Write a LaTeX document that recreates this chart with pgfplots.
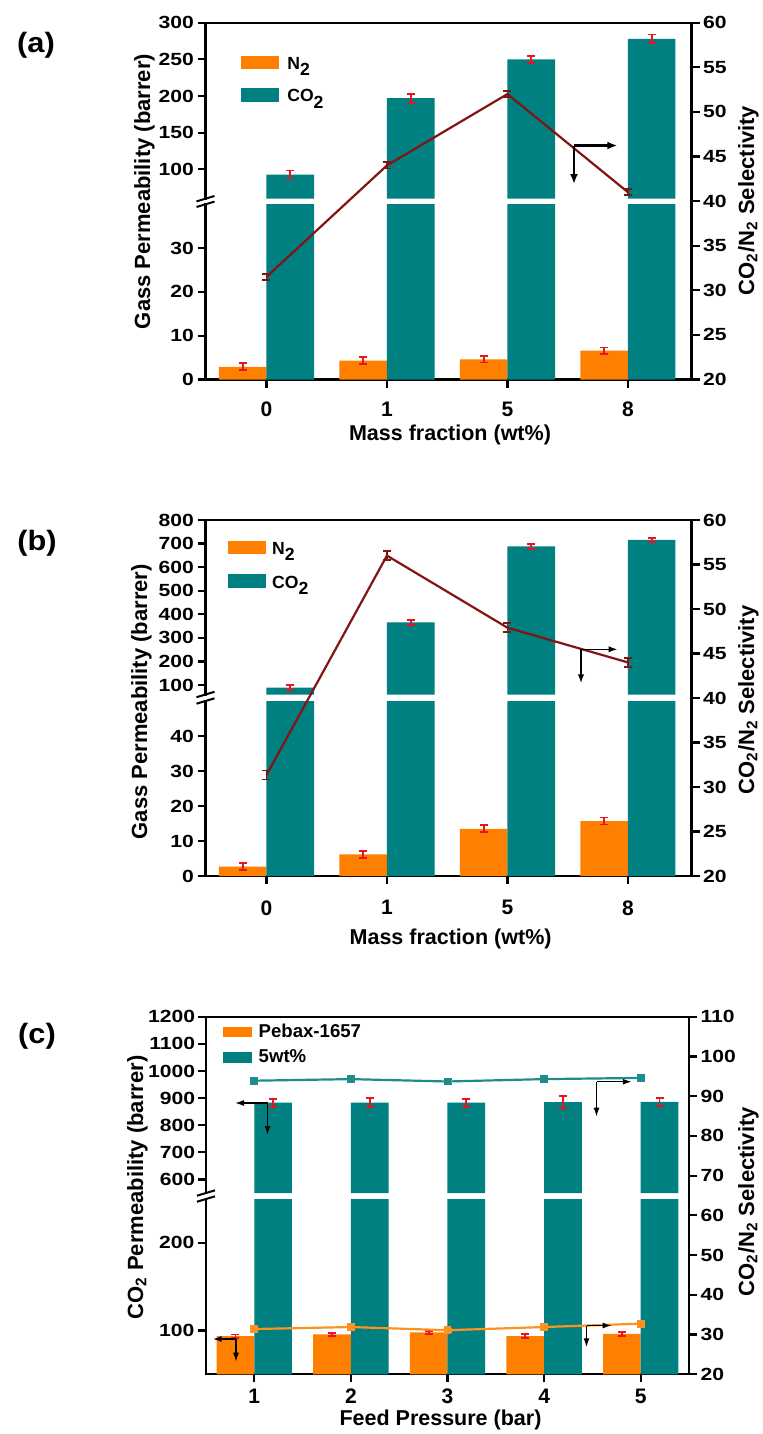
\documentclass[border=0pt]{standalone}
\usepackage{pgfplots}
\pgfplotsset{compat=1.18}
\usepackage{graphicx}
\usepackage{fontspec}
\setmainfont{Liberation Sans}
\usetikzlibrary{arrows.meta}
\definecolor{orbar}{RGB}{255,128,0}
\definecolor{tlbar}{RGB}{0,128,128}
\definecolor{errred}{RGB}{235,20,30}
\definecolor{maroonl}{RGB}{130,20,20}
\definecolor{orline}{RGB}{255,145,30}
\definecolor{tlline}{RGB}{30,140,140}
\newcommand\ytf{\bfseries\fontsize{8.8pt}{9pt}\selectfont}
\newcommand\xtf{\bfseries\fontsize{10.5pt}{11pt}\selectfont}
\newcommand\labf{\bfseries\fontsize{11pt}{12pt}\selectfont}
\newcommand\xlabf{\bfseries\fontsize{10.75pt}{12pt}\selectfont}
\newcommand\legf{\bfseries\fontsize{8.8pt}{10pt}\selectfont}
\newcommand\legcf{\bfseries\fontsize{9.3pt}{10pt}\selectfont}
\newcommand\panf{\bfseries\fontsize{14pt}{16pt}\selectfont}
\newcommand\lsub[1]{\raisebox{-3.2pt}{#1}}
\pgfplotsset{
  common/.style={scale only axis, anchor=south west, tick align=outside, major tick length=4pt,
    axis line style={-, line width=1.1pt, line cap=rect},
    major tick style={line width=1.1pt, black},
    minor tick num=0,
    /pgf/number format/assume math mode=true, /pgf/number format/1000 sep={},
    yticklabel={\scalebox{1.2}[1]{\pgfmathprintnumber{\tick}}},
    yticklabel style={font=\ytf, inner xsep=1.6pt, inner ysep=0pt},
    xticklabel style={font=\xtf, inner sep=0pt}},
  seg/.style={common, ybar, bar width=0.395},
  ovl/.style={common, axis y line*=right, axis x line=none},
  nbar/.style={fill=orbar, draw=none, bar shift=0pt},
  cbar/.style={fill=tlbar, draw=none, bar shift=0pt},
  rerr/.style={error bars/.cd, y dir=both, y explicit,
    error bar style={errred, line width=0.9pt},
    error mark options={rotate=90, errred, mark size=2pt, line width=0.9pt}},
  lerr/.style={error bars/.cd, y dir=both, y explicit,
    error bar style={#1, line width=0.9pt},
    error mark options={rotate=90, #1, mark size=2pt, line width=0.9pt}},
}
\begin{document}
\begin{tikzpicture}
\path[use as bounding box] (0,0) rectangle (381.5pt,-717pt);

% ================= (a) =================
\begin{axis}[seg, at={(102.75pt,-189.75pt)}, width=243pt, height=87.6pt,
  xmin=-0.506, xmax=3.528, ymin=0, ymax=40,
  axis x line*=bottom, axis y line*=left,
  xtick={0,1,2,3}, xticklabels={0,1,5,8}, ytick={0,10,20,30},
  xticklabel style={yshift=-6.85pt}]
\addplot[nbar, rerr] coordinates {(-0.1975,2.9) +- (0,0.8) (0.8025,4.3) +- (0,0.8) (1.8025,4.6) +- (0,0.7) (2.8025,6.6) +- (0,0.7)};
\addplot[cbar] coordinates {(0.1975,93) (1.1975,197) (2.1975,250) (3.1975,278)};
\end{axis}
\begin{axis}[seg, at={(102.75pt,-99.35pt)}, width=243pt, height=88pt,
  xmin=-0.506, xmax=3.528, ymin=60, ymax=300,
  axis x line*=top, axis y line*=left, xtick=\empty, ytick={100,150,...,300}]
\addplot[cbar, rerr] coordinates {(0.1975,93) +- (0,5.5) (1.1975,197) +- (0,6) (2.1975,250) +- (0,5) (3.1975,278) +- (0,6)};
\end{axis}
\begin{axis}[ovl, at={(102.75pt,-189.75pt)}, width=243pt, height=178.4pt,
  xmin=-0.506, xmax=3.528, ymin=20, ymax=60, ytick={20,25,...,60}]
\addplot[maroonl, line width=1.1pt, mark=none, lerr=maroonl]
  coordinates {(0,31.5) +- (0,0.35) (1,44) +- (0,0.35) (2,52) +- (0,0.35) (3,41) +- (0,0.35)};
\end{axis}
\draw[line width=1pt] (98.25pt,-100.7pt) -- (107.25pt,-98.0pt);
\draw[line width=1pt] (98.25pt,-103.5pt) -- (107.25pt,-100.8pt);
\draw[line width=1.1pt, -{Latex[length=5pt,width=4pt]}] (287pt,-72.75pt) -- (308.65pt,-72.75pt);
\draw[line width=1.1pt, -{Latex[length=5pt,width=4pt]}] (287pt,-72.75pt) -- (287pt,-92pt);
\fill[orbar] (120.5pt,-28pt) rectangle (139.5pt,-34.65pt);
\node[anchor=base west, inner sep=0pt, font=\legf] at (143.45pt,-34.65pt) {N\lsub{2}};
\fill[tlbar] (120.5pt,-44.15pt) rectangle (139.5pt,-50.85pt);
\node[anchor=base west, inner sep=0pt, font=\legf] at (143.45pt,-50.85pt) {CO\lsub{2}};
\node[font=\panf] at (18pt,-22.5pt) {\scalebox{1.1}[1]{(a)}};
\node[rotate=90, anchor=base, inner sep=0pt, font=\labf] at (75pt,-95.75pt) {Gass Permeability (barrer)};
\node[rotate=90, anchor=base, inner sep=0pt, font=\labf] at (377pt,-100.25pt) {CO\textsubscript{2}/N\textsubscript{2} Selectivity};
\node[anchor=base, inner sep=0pt, font=\xlabf] at (225pt,-220.25pt) {Mass fraction (wt\%)};

% ================= (b) =================
\begin{axis}[seg, at={(102.75pt,-438pt)}, width=243pt, height=87.5pt,
  xmin=-0.506, xmax=3.528, ymin=0, ymax=50,
  axis x line*=bottom, axis y line*=left,
  xtick={0,1,2,3}, xticklabels={0,1,5,8}, ytick={0,10,20,30,40},
  xticklabel style={yshift=-8pt}]
\addplot[nbar, rerr] coordinates {(-0.1975,2.7) +- (0,1.0) (0.8025,6.2) +- (0,1.0) (1.8025,13.5) +- (0,1.0) (2.8025,15.7) +- (0,1.0)};
\addplot[cbar] coordinates {(0.1975,89) (1.1975,366) (2.1975,688) (3.1975,716)};
\end{axis}
\begin{axis}[seg, at={(102.75pt,-347.25pt)}, width=243pt, height=87.25pt,
  xmin=-0.506, xmax=3.528, ymin=60, ymax=800,
  axis x line*=top, axis y line*=left, xtick=\empty, ytick={100,200,...,800}]
\addplot[cbar, rerr] coordinates {(0.1975,89) +- (0,11) (1.1975,366) +- (0,10) (2.1975,688) +- (0,10) (3.1975,716) +- (0,8)};
\end{axis}
\begin{axis}[ovl, at={(102.75pt,-438pt)}, width=243pt, height=178pt,
  xmin=-0.506, xmax=3.528, ymin=20, ymax=60, ytick={20,25,...,60}]
\addplot[maroonl, line width=1.1pt, mark=none, lerr=maroonl]
  coordinates {(0,31.35) +- (0,0.5) (1,56) +- (0,0.5) (2,47.9) +- (0,0.5) (3,44) +- (0,0.5)};
\end{axis}
\draw[line width=1pt] (98.25pt,-348.6pt) -- (107.25pt,-345.9pt);
\draw[line width=1pt] (98.25pt,-351.85pt) -- (107.25pt,-349.15pt);
\draw[line width=0.75pt, -{Latex[length=4.5pt,width=3.2pt]}] (290.5pt,-324.65pt) -- (308.75pt,-324.65pt);
\draw[line width=0.75pt, -{Latex[length=4.5pt,width=3.2pt]}] (290.5pt,-324.65pt) -- (290.5pt,-341.65pt);
\fill[orbar] (113.85pt,-270.5pt) rectangle (132.85pt,-277.15pt);
\node[anchor=base west, inner sep=0pt, font=\legf] at (135.85pt,-277.15pt) {N\lsub{2}};
\fill[tlbar] (113.85pt,-287pt) rectangle (132.85pt,-294.15pt);
\node[anchor=base west, inner sep=0pt, font=\legf] at (135.85pt,-294.15pt) {CO\lsub{2}};
\node[font=\panf] at (18.5pt,-271.5pt) {\scalebox{1.1}[1]{(b)}};
\node[rotate=90, anchor=base, inner sep=0pt, font=\labf] at (73.5pt,-350.85pt) {Gass Permeability (barrer)};
\node[rotate=90, anchor=base, inner sep=0pt, font=\labf] at (377pt,-350pt) {CO\textsubscript{2}/N\textsubscript{2} Selectivity};
\node[anchor=base, inner sep=0pt, font=\xlabf] at (225.3pt,-472pt) {Mass fraction (wt\%)};

% ================= (c) =================
\begin{axis}[seg, bar width=0.39, at={(103pt,-687.15pt)}, width=241.5pt, height=87.65pt,
  xmin=0.5, xmax=5.5, ymin=50, ymax=250,
  axis x line*=bottom, axis y line*=left,
  xtick={1,2,3,4,5}, ytick={100,200},
  xticklabel style={yshift=-3pt}]
\addplot[nbar, rerr] coordinates {(0.805,93.5) +- (0,2) (1.805,95.5) +- (0,2) (2.805,97.8) +- (0,1.6) (3.805,93.5) +- (0,2.5) (4.805,96) +- (0,2.5)};
\addplot[cbar] coordinates {(1.195,883) (2.195,883) (3.195,883) (4.195,885) (5.195,886)};
\end{axis}
\begin{axis}[seg, bar width=0.39, at={(103pt,-596.5pt)}, width=241.5pt, height=88.15pt,
  xmin=0.5, xmax=5.5, ymin=550, ymax=1200,
  axis x line*=top, axis y line*=left, xtick=\empty, ytick={600,700,...,1200},
  yticklabel style={inner xsep=1.2pt}]
\addplot[cbar, rerr] coordinates {(1.195,883) +- (0,15) (2.195,883) +- (0,17) (3.195,883) +- (0,15) (4.195,885) +- (0,22) (5.195,886) +- (0,15)};
\end{axis}
\begin{axis}[ovl, at={(103pt,-687.15pt)}, width=241.5pt, height=178.8pt,
  xmin=0.5, xmax=5.5, ymin=20, ymax=110, ytick={20,30,...,110}]
\addplot[tlline, line width=1.1pt, mark=square*, mark size=1.4pt, lerr=tlline]
  coordinates {(1,93.9) +- (0,0.7) (2,94.3) +- (0,0.7) (3,93.7) +- (0,0.7) (4,94.3) +- (0,0.7) (5,94.6) +- (0,0.7)};
\addplot[orline, line width=1.1pt, mark=square*, mark size=1.4pt, lerr=orline]
  coordinates {(1,31.4) +- (0,0.4) (2,31.9) +- (0,0.4) (3,31.1) +- (0,0.4) (4,31.9) +- (0,0.4) (5,32.75) +- (0,0.4)};
\end{axis}
\draw[line width=1pt] (98.5pt,-597.85pt) -- (107.5pt,-595.15pt);
\draw[line width=1pt] (98.5pt,-600.85pt) -- (107.5pt,-598.15pt);
\draw[line width=0.7pt, -{Latex[length=4.5pt,width=3pt]}] (133.75pt,-551.5pt) -- (117.5pt,-551.5pt);
\draw[line width=0.7pt, -{Latex[length=4.5pt,width=3pt]}] (133.75pt,-551.5pt) -- (133.75pt,-567.5pt);
\draw[line width=0.7pt, -{Latex[length=4.5pt,width=3pt]}] (298.25pt,-540.85pt) -- (315.9pt,-540.85pt);
\draw[line width=0.7pt, -{Latex[length=4.5pt,width=3pt]}] (298.25pt,-540.85pt) -- (298.25pt,-558.35pt);
\draw[line width=0.7pt, -{Latex[length=4.5pt,width=3pt]}] (118pt,-669.5pt) -- (106.35pt,-669.5pt);
\draw[line width=0.7pt, -{Latex[length=4.5pt,width=3pt]}] (118pt,-669.5pt) -- (118pt,-680.85pt);
\draw[line width=0.7pt, -{Latex[length=4.5pt,width=3pt]}] (293.25pt,-662.75pt) -- (305.85pt,-662.75pt);
\draw[line width=0.7pt, -{Latex[length=4.5pt,width=3pt]}] (293.25pt,-662.75pt) -- (293.25pt,-673.65pt);
\fill[orbar] (111.65pt,-513.65pt) rectangle (126.15pt,-518.65pt);
\node[anchor=base west, inner sep=0pt, font=\legcf] at (129.15pt,-518.65pt) {Pebax-1657};
\fill[tlbar] (111.65pt,-525.85pt) rectangle (126.15pt,-531.35pt);
\node[anchor=base west, inner sep=0pt, font=\legcf] at (129.15pt,-531.35pt) {5wt\%};
\node[font=\panf] at (18.5pt,-518.35pt) {\scalebox{1.1}[1]{(c)}};
\node[rotate=90, anchor=base, inner sep=0pt, font=\labf] at (71.5pt,-593.75pt) {CO\textsubscript{2} Permeability (barrer)};
\node[rotate=90, anchor=base, inner sep=0pt, font=\labf] at (377pt,-600.85pt) {CO\textsubscript{2}/N\textsubscript{2} Selectivity};
\node[anchor=base, inner sep=0pt, font=\xlabf] at (220.25pt,-712.5pt) {Feed Pressure (bar)};
\end{tikzpicture}
\end{document}
